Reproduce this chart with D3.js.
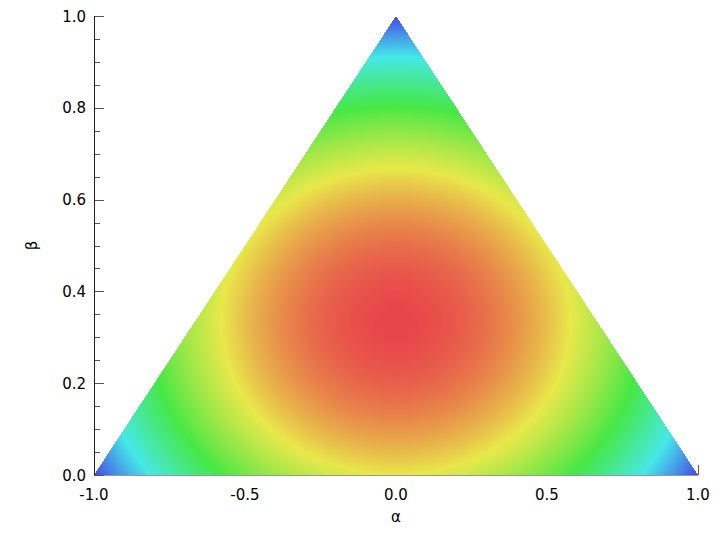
<!DOCTYPE html>
<html>
<head>
<meta charset="utf-8">
<script src="https://cdn.jsdelivr.net/npm/d3@7"></script>
<style>
  html, body { margin: 0; padding: 0; background: #fff; }
  svg { display: block; }
  text { font-family: "DejaVu Sans", sans-serif; fill: #000; }
</style>
</head>
<body>
<svg id="chart" width="720" height="540"></svg>
<script>
// ---- data ----
const vertexAlpha = [-1, 1, 0];          // triangle corners, α
const vertexBeta  = [0, 0, 1];           // triangle corners, β
const colorStops  = ["#e8464a", "#e8e84a", "#46e846", "#46e8e8", "#4646e8"];
const stopLevels  = [0, 0.25, 0.5, 0.75, 1];
const xTicks      = [-1, -0.5, 0, 0.5, 1];
const xTickLabels = ["-1.0", "-0.5", "0.0", "0.5", "1.0"];
const yTicks      = [0, 0.2, 0.4, 0.6, 0.8, 1];
const yTickLabels = ["0.0", "0.2", "0.4", "0.6", "0.8", "1.0"];
const xLabel = "α";
const yLabel = "β";

// ---- scales ----
const width = 720, height = 540;
const x = d3.scaleLinear().domain([-1, 1]).range([94, 698]);
const y = d3.scaleLinear().domain([0, 1]).range([475, 16]);
const color = d3.scaleLinear().domain(stopLevels).range(colorStops)
  .interpolate(d3.interpolateRgb).clamp(true);

// field over the simplex: squared distance of barycentric weights from the centre
function field(a, b) {
  const p3 = b, p1 = (1 - a - b) / 2, p2 = (1 + a - b) / 2;
  const s = (p1 - 1/3) ** 2 + (p2 - 1/3) ** 2 + (p3 - 1/3) ** 2;
  return s / (2/3);
}
function inside(a, b) {
  // barycentric test against the triangle given by vertexAlpha / vertexBeta
  const [x1, x2, x3] = vertexAlpha, [y1, y2, y3] = vertexBeta;
  const d = (y2 - y3) * (x1 - x3) + (x3 - x2) * (y1 - y3);
  const l1 = ((y2 - y3) * (a - x3) + (x3 - x2) * (b - y3)) / d;
  const l2 = ((y3 - y1) * (a - x3) + (x1 - x3) * (b - y3)) / d;
  const l3 = 1 - l1 - l2;
  return l1 >= 0 && l2 >= 0 && l3 >= 0;
}

const svg = d3.select("#chart");

// x axis (drawn beneath the field)
const gx = svg.append("g");
gx.append("line").attr("x1", x(-1)).attr("x2", x(1)).attr("y1", y(0)).attr("y2", y(0))
  .attr("stroke", "#333").attr("stroke-width", 1);
gx.selectAll("line.tk").data(xTicks).join("line").attr("class", "tk")
  .attr("x1", d => Math.round(x(d)) + 0.5).attr("x2", d => Math.round(x(d)) + 0.5)
  .attr("y1", y(0)).attr("y2", y(0) - 10).attr("stroke", "#555");
gx.selectAll("text").data(xTicks).join("text")
  .attr("x", d => x(d)).attr("y", 500).attr("text-anchor", "middle")
  .attr("font-size", 15).text((d, i) => xTickLabels[i]);

// heat field on a canvas
const x0 = Math.floor(d3.min(vertexAlpha.map(x))), x1 = Math.ceil(d3.max(vertexAlpha.map(x)));
const y0 = Math.floor(d3.min(vertexBeta.map(y))), y1 = Math.ceil(d3.max(vertexBeta.map(y)));
const cw = x1 - x0 + 1, ch = y1 - y0 + 1;
const canvas = document.createElement("canvas");
canvas.width = cw; canvas.height = ch;
const ctx = canvas.getContext("2d");
const img = ctx.createImageData(cw, ch);
for (let j = 0; j < ch; j++) {
  for (let i = 0; i < cw; i++) {
    const a = x.invert(x0 + i + 0.5), b = y.invert(y0 + j + 0.5);
    if (!inside(a, b)) continue;
    const c = d3.rgb(color(field(a, b)));
    const k = (j * cw + i) * 4;
    img.data[k] = c.r; img.data[k + 1] = c.g; img.data[k + 2] = c.b; img.data[k + 3] = 255;
  }
}
ctx.putImageData(img, 0, 0);
svg.append("image").attr("x", x0).attr("y", y0).attr("width", cw).attr("height", ch)
  .attr("href", canvas.toDataURL());

// y axis
const gy = svg.append("g");
const minor = d3.range(0, 1.0001, 0.05);
gy.selectAll("line.mn").data(minor).join("line").attr("class", "mn")
  .attr("x1", x(-1)).attr("x2", x(-1) + 6)
  .attr("y1", d => Math.round(y(d)) + 0.5).attr("y2", d => Math.round(y(d)) + 0.5)
  .attr("stroke", "#555");
gy.selectAll("line.mj").data(yTicks).join("line").attr("class", "mj")
  .attr("x1", x(-1)).attr("x2", x(-1) + 10)
  .attr("y1", d => Math.round(y(d)) + 0.5).attr("y2", d => Math.round(y(d)) + 0.5)
  .attr("stroke", "#555");
gy.append("line").attr("x1", Math.round(x(-1)) + 0.5).attr("x2", Math.round(x(-1)) + 0.5)
  .attr("y1", y(0)).attr("y2", y(1)).attr("stroke", "#222");
gy.selectAll("text").data(yTicks).join("text")
  .attr("x", 86).attr("y", d => y(d) + 5.5).attr("text-anchor", "end")
  .attr("font-size", 15).text((d, i) => yTickLabels[i]);

// axis titles
svg.append("text").attr("x", x(0)).attr("y", 522).attr("text-anchor", "middle")
  .attr("font-size", 15).text(xLabel);
svg.append("text").attr("transform", `translate(37,${(y(0) + y(1)) / 2}) rotate(-90)`)
  .attr("text-anchor", "middle").attr("font-size", 15).text(yLabel);
</script>
</body>
</html>
